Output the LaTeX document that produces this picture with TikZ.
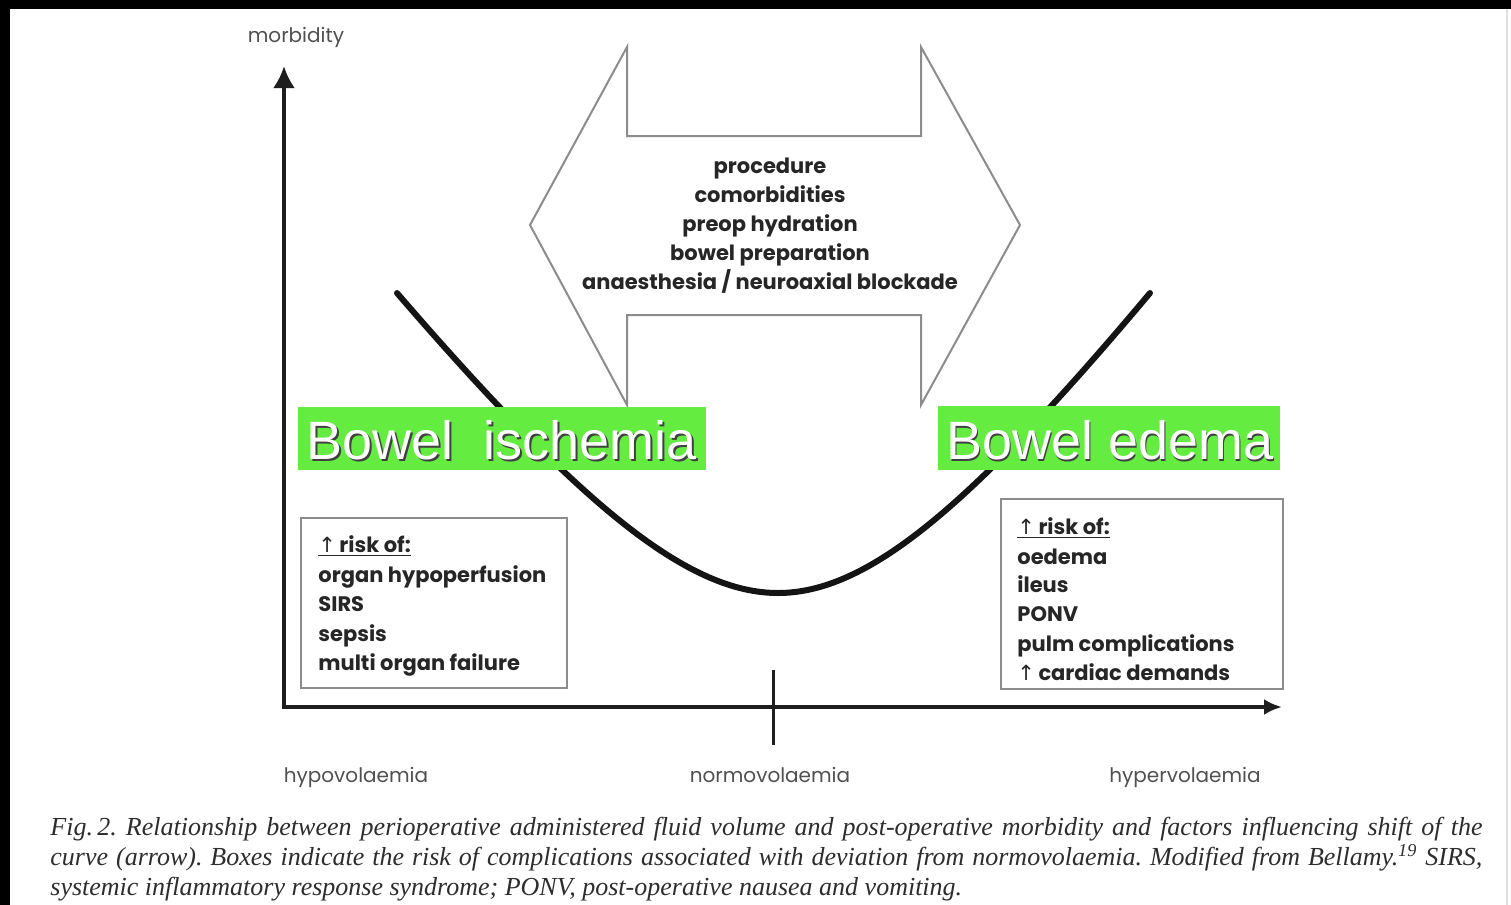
\documentclass[tikz,border=0pt]{standalone}
\usepackage{fontspec}
\setmainfont{Poppins}
\newfontfamily\labelfont{Liberation Sans}
\newfontfamily\capfont{Liberation Serif}
\newfontfamily\symfont{DejaVu Sans}
\usetikzlibrary{arrows.meta}
\definecolor{boxgreen}{RGB}{100,236,64}
\definecolor{outlinegray}{RGB}{140,140,140}
\definecolor{axisblack}{RGB}{30,30,30}
\definecolor{labelgray}{RGB}{80,80,80}
\definecolor{captiongray}{RGB}{45,45,45}
\newcommand{\upar}{{\symfont\mdseries ↑}}
\frenchspacing
\begin{document}
\begin{tikzpicture}[x=0.5pt,y=-0.5pt,
  axis/.style={draw=axisblack,line width=2pt},
  curveline/.style={draw=black!92,line width=3pt,line cap=round},
  factorarrow/.style={draw=outlinegray,line width=1pt,line join=miter},
  riskbox/.style={draw=outlinegray,line width=1.2pt},
  gbox/.style={fill=boxgreen,inner sep=0pt},
  gtext/.style={text=white,font=\labelfont\fontsize{27}{30}\selectfont,inner sep=0pt},
  gshadow/.style={text=black!75,font=\labelfont\fontsize{27}{30}\selectfont,inner sep=0pt},
  boxtext/.style={anchor=base west,inner sep=0pt,text=black!85,font=\fontsize{10.5}{13}\selectfont\bfseries},
  axislabel/.style={anchor=base,inner sep=0pt,text=labelgray,font=\fontsize{10}{12}\selectfont},
  factortext/.style={align=center,inner sep=0pt,text=black!85,font=\fontsize{10.5}{14.5}\selectfont\bfseries},
  captext/.style={anchor=base west,inner sep=0pt,text=captiongray,font=\capfont\itshape\fontsize{13}{15}\selectfont}
]
\useasboundingbox[fill=white] (0,0) rectangle (1511,905);
% frame
\fill[black] (0,0) rectangle (1511,9);
\fill[black] (0,0) rectangle (10,905);
\draw[black!12,line width=0.8pt] (1507,9) -- (1507,905);

% factor double arrow
\draw[factorarrow] (530,225) -- (627,47) -- (627,136) -- (921,136) -- (921,47)
  -- (1020,225) -- (921,405) -- (921,315) -- (627,315) -- (627,405) -- cycle;
\node[factortext] (factors) at (770,226) {procedure\\comorbidities\\preop hydration\\bowel preparation\\anaesthesia / neuroaxial blockade};

% axes
\coordinate (ytop) at (284,66);
\coordinate (xend) at (1282,707);
\draw[axis,-{Latex[length=11pt,width=11pt]}] (284,709) -- (ytop);
\draw[axis,-{Latex[length=9pt,width=8pt]}] (282,707) -- (xend);
\coordinate (tickt) at (773,670);
\coordinate (tickb) at (773,745);
\draw[axisblack,line width=1.5pt] (tickt) -- (tickb);

\node[axislabel] (morb) at (296,42) {morbidity};
\node[axislabel] (hypo) at (356,782) {hypovolaemia};
\node[axislabel] (normo) at (770,782) {normovolaemia};
\node[axislabel] (hyper) at (1185,782) {hypervolaemia};

% U curve
\coordinate (cstart) at (397,293);
\coordinate (cmin) at (778,593);
\coordinate (cend) at (1150,293);
\draw[curveline] (cstart) .. controls (585,511) and (690,593) .. (cmin)
  .. controls (866,593) and (967,511) .. (cend);

% green labels
\node[gbox,minimum width=204pt,minimum height=31.5pt] (isch) at (502,438.5) {};
\node[gshadow] (ischs) at (503.5,442) {Bowel\ \ ischemia};
\node[gtext] (ischt) at (501.5,440) {Bowel\ \ ischemia};
\node[gbox,minimum width=171pt,minimum height=32pt] (edem) at (1109,438) {};
\node[gshadow] (edems) at (1111.5,442) {Bowel edema};
\node[gtext] (edemt) at (1110,440) {Bowel edema};

% risk boxes
\draw[riskbox] (301,518) rectangle (567,688);
\draw[riskbox] (1001,499) rectangle (1283,689);
\node[boxtext] (l1) at (318,552) {\underline{\upar\,risk of:}};
\node[boxtext] (l2) at (318,582) {organ hypoperfusion};
\node[boxtext] (l3) at (318,611) {SIRS};
\node[boxtext] (l4) at (318,641) {sepsis};
\node[boxtext] (l5) at (318,670) {multi organ failure};
\node[boxtext] (r1) at (1017,534) {\underline{\upar\,risk of:}};
\node[boxtext] (r2) at (1017,564) {oedema};
\node[boxtext] (r3) at (1017,592) {ileus};
\node[boxtext] (r4) at (1017,621) {PONV};
\node[boxtext] (r5) at (1017,651) {pulm complications};
\node[boxtext] (r6) at (1017,680) {\upar\,cardiac demands};

% caption
\node[captext] (cap1) at (50,835) {\makebox[716pt][s]{Fig.\,2. Relationship between perioperative administered fluid volume and post-operative morbidity and factors influencing shift of the}};
\node[captext] (cap2) at (50,865) {\makebox[716pt][s]{curve (arrow). Boxes indicate the risk of complications associated with deviation from normovolaemia. Modified from Bellamy.\textsuperscript{19} SIRS,}};
\node[captext] (cap3) at (50,895) {systemic inflammatory response syndrome; PONV, post-operative nausea and vomiting.};
\end{tikzpicture}
\end{document}
